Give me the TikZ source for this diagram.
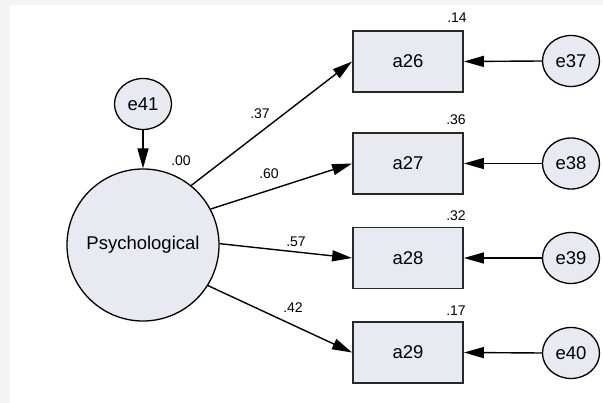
\documentclass[tikz,border=0pt]{standalone}
\usepackage{fontspec}
\setmainfont{Liberation Sans}
\usetikzlibrary{shapes.geometric,arrows.meta,positioning}
\definecolor{semfill}{RGB}{233,233,242}
\definecolor{semline}{RGB}{40,40,40}
\definecolor{frame}{RGB}{244,244,244}

\begin{document}
\begin{tikzpicture}[
    x=1pt, y=-1pt,
    font=\fontsize{18.5}{20}\selectfont,
    latent/.style={draw, circle, fill=semfill, minimum size=152pt, inner sep=0pt, line width=1.3pt},
    errvar/.style={draw, ellipse, fill=semfill, minimum width=57pt, minimum height=51pt, inner sep=0pt, line width=1.3pt},
    observed/.style={draw=semline, rectangle, fill=semfill, minimum width=110pt, minimum height=61pt, inner sep=0pt, line width=1.8pt},
    coef/.style={font=\fontsize{14}{15}\selectfont, inner sep=0pt},
    path/.style={-{Triangle[length=20pt, width=11pt]}, line width=1.4pt}
]
% background frame
\fill[frame] (0,0) rectangle (603,403);
\fill[white] (10,5) rectangle (603,403);
\useasboundingbox (0,0) rectangle (603,403);

\node[latent] (psy) at (143,245) {Psychological};
\node[errvar] (e41) at (143,104) {e41};

\node[observed] (a26) at (408,61.5) {a26};
\node[observed] (a27) at (408,163.5) {a27};
\node[observed] (a28) at (408,258) {a28};
\node[observed] (a29) at (408,352.5) {a29};

\node[errvar] (e37) at (571,61) {e37};
\node[errvar] (e38) at (571,163.5) {e38};
\node[errvar] (e39) at (571,258) {e39};
\node[errvar] (e40) at (571,353) {e40};

\draw[path] (e41.south) -- (psy.north);
\draw[path] (psy.51) -- (a26.west);
\draw[path] (psy.28) -- (a27.west);
\draw[path] (psy.1) -- (a28.west);
\draw[path] (psy.-32) -- (a29.west);

\draw[path] (e37.west) -- (a26.east);
\draw[path] (e38.west) -- (a27.east);
\draw[path] (e39.west) -- (a28.east);
\draw[path] (e40.west) -- (a29.east);

% estimates
\node[coef] (r00) at (181,161) {.00};
\node[coef] (l37) at (260,114) {.37};
\node[coef] (l60) at (269,174) {.60};
\node[coef] (l57) at (296,242) {.57};
\node[coef] (l42) at (293,308) {.42};
\node[coef] (r14) at (457,18) {.14};
\node[coef] (r36) at (456,120) {.36};
\node[coef] (r32) at (456,216) {.32};
\node[coef] (r17) at (456,311) {.17};
\end{tikzpicture}
\end{document}
